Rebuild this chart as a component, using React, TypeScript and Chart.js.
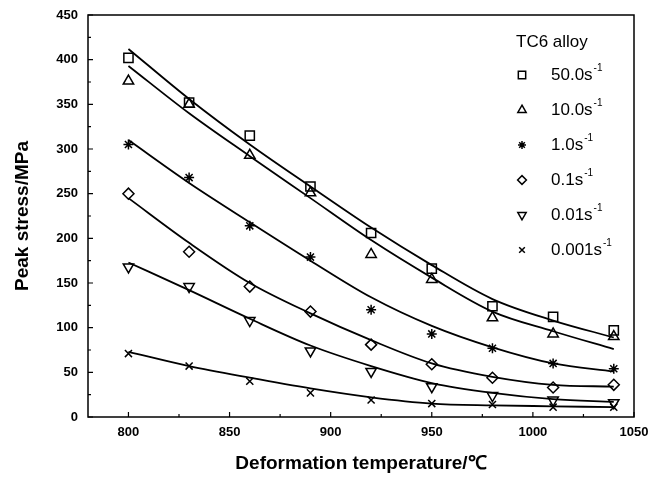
import React, { useEffect, useRef } from 'react';
import { Chart, registerables } from 'chart.js';
import { drawPoint } from 'chart.js/helpers';

Chart.register(...registerables);

// ---- data ----
const temperatures = [800, 830, 860, 890, 920, 950, 980, 1010, 1040];

const rateLabels = ['50.0', '10.0', '1.0', '0.1', '0.01', '0.001'];

const stress50 = [402, 352, 315, 258, 206, 166, 124, 112, 97];
const stress10 = [376, 350, 293, 251, 182, 154, 111, 93, 90];
const stress1 = [305, 268, 214, 179, 120, 93, 77, 60, 54];
const stress01 = [250, 185, 146, 118, 81, 59, 44, 33, 36];
const stress001 = [168, 146, 108, 74, 51, 34, 24, 19, 16];
const stress0001 = [71, 57, 40, 27, 19, 15, 14, 11, 11];

const fit50 = [412, 356, 305, 258, 212, 170, 132, 108, 89];
const fit10 = [393, 340, 292, 245, 198, 156, 118, 96, 76];
const fit1 = [310, 262, 218, 175, 134, 102, 78, 60, 51];
const fit01 = [245, 195, 150, 116, 86, 60, 45, 36, 34];
const fit001 = [173, 142, 110, 80, 57, 38, 27, 20, 17];
const fit0001 = [73, 57, 44, 32, 22, 15, 13, 12, 11];

const xTicks = [800, 850, 900, 950, 1000, 1050];
const yTicks = [0, 50, 100, 150, 200, 250, 300, 350, 400, 450];

const legendTitle = 'TC6 alloy';
const xTitle = 'Deformation temperature/\u2103';
const yTitle = 'Peak stress/MPa';

// ---- styles ----
const measured = [stress50, stress10, stress1, stress01, stress001, stress0001];
const fits = [fit50, fit10, fit1, fit01, fit001, fit0001];
const markerStyles = ['rect', 'triangle', 'star', 'rectRot', 'triangle', 'crossRot'];
const markerRotations = [0, 0, 0, 0, 180, 0];
const markerRadii = [6.5, 6, 5, 5.5, 6, 5];

const FONT = '"Liberation Sans", Arial, Helvetica, sans-serif';

const toPoints = (vals: number[]) => vals.map((v, i) => ({ x: temperatures[i], y: v }));

const decorPlugin = {
  id: 'decor',
  afterDraw(chart: any) {
    const { ctx, chartArea: a, scales } = chart;
    const xs = scales.x;
    const ys = scales.y;
    ctx.save();
    ctx.strokeStyle = '#000';
    ctx.lineWidth = 1.5;
    ctx.strokeRect(a.left, a.top, a.right - a.left, a.bottom - a.top);

    ctx.lineWidth = 1.2;
    const xMinor = xTicks.slice(0, -1).map((v, i) => (v + xTicks[i + 1]) / 2);
    const yMinor = yTicks.slice(0, -1).map((v, i) => (v + yTicks[i + 1]) / 2);
    ctx.beginPath();
    xTicks.forEach((v) => {
      const px = xs.getPixelForValue(v);
      ctx.moveTo(px, a.bottom);
      ctx.lineTo(px, a.bottom - 5);
    });
    xMinor.forEach((v) => {
      const px = xs.getPixelForValue(v);
      ctx.moveTo(px, a.bottom);
      ctx.lineTo(px, a.bottom - 3);
    });
    yTicks.forEach((v) => {
      const py = ys.getPixelForValue(v);
      ctx.moveTo(a.left, py);
      ctx.lineTo(a.left + 5, py);
    });
    yMinor.forEach((v) => {
      const py = ys.getPixelForValue(v);
      ctx.moveTo(a.left, py);
      ctx.lineTo(a.left + 3, py);
    });
    ctx.stroke();

    // legend
    const lx = a.right - 118;
    ctx.textBaseline = 'middle';
    ctx.textAlign = 'left';
    ctx.fillStyle = '#000';
    ctx.font = `17px ${FONT}`;
    ctx.fillText(legendTitle, lx, a.top + 27);
    rateLabels.forEach((lab, i) => {
      const y = a.top + 60 + i * 35;
      ctx.strokeStyle = '#000';
      ctx.fillStyle = 'rgba(0,0,0,0)';
      ctx.lineWidth = 1.5;
      drawPoint(ctx, { pointStyle: markerStyles[i], rotation: markerRotations[i], radius: markerRadii[i] * 0.8, borderWidth: 1.5 } as any, lx + 6, y);
      ctx.fillStyle = '#000';
      ctx.font = `17px ${FONT}`;
      const base = lab + 's';
      ctx.fillText(base, lx + 35, y);
      const w = ctx.measureText(base).width;
      ctx.font = `10px ${FONT}`;
      ctx.fillText('-1', lx + 35 + w + 1, y - 7);
    });
    ctx.restore();
  },
};

export default function App() {
  const ref = useRef<HTMLCanvasElement | null>(null);
  useEffect(() => {
    if (!ref.current) return;
    const datasets: any[] = [];
    fits.forEach((f) => {
      datasets.push({
        data: toPoints(f),
        showLine: true,
        borderColor: '#000',
        borderWidth: 1.8,
        pointRadius: 0,
        cubicInterpolationMode: 'monotone',
        fill: false,
      });
    });
    measured.forEach((m, i) => {
      datasets.push({
        label: rateLabels[i],
        data: toPoints(m),
        showLine: false,
        pointStyle: markerStyles[i],
        rotation: markerRotations[i],
        pointRadius: markerRadii[i],
        pointBorderColor: '#000',
        pointBackgroundColor: 'rgba(0,0,0,0)',
        pointBorderWidth: 1.5,
      });
    });
    const chart = new Chart(ref.current, {
      type: 'scatter',
      data: { datasets },
      plugins: [decorPlugin],
      options: {
        responsive: false,
        animation: false,
        layout: { padding: { top: 15, right: 16, left: 0, bottom: 0 } },
        plugins: { legend: { display: false }, tooltip: { enabled: false } },
        scales: {
          x: {
            type: 'linear',
            min: 780,
            max: 1050,
            afterFit: (s: any) => { s.height = 62; s.paddingLeft = 0; s.paddingRight = 0; },
            afterBuildTicks: (s: any) => { s.ticks = xTicks.map((v) => ({ value: v })); },
            grid: { display: false, drawTicks: false },
            border: { display: false },
            ticks: { padding: 8, color: '#000', maxRotation: 0, autoSkip: false, callback: (v: any) => String(v), font: { family: FONT, size: 13, weight: 'bold' } },
            title: { display: true, text: xTitle, color: '#000', font: { family: FONT, size: 19, weight: 'bold' }, padding: { top: 0, bottom: 4 } },
          },
          y: {
            type: 'linear',
            min: 0,
            max: 450,
            afterFit: (s: any) => { s.width = 88; s.paddingTop = 0; s.paddingBottom = 0; },
            afterBuildTicks: (s: any) => { s.ticks = yTicks.map((v) => ({ value: v })); },
            grid: { display: false, drawTicks: false },
            border: { display: false },
            ticks: { padding: 10, color: '#000', callback: (v: any) => String(v), font: { family: FONT, size: 13, weight: 'bold' } },
            title: { display: true, text: yTitle, color: '#000', font: { family: FONT, size: 19, weight: 'bold' }, padding: { top: 11, bottom: 0 } },
          },
        },
      } as any,
    });
    return () => chart.destroy();
  }, []);
  return (
    <div style={{ position: 'fixed', left: 0, top: 0, width: 650, height: 479, background: '#fff' }}>
      <canvas ref={ref} width={650} height={479} style={{ display: 'block' }} />
    </div>
  );
}
